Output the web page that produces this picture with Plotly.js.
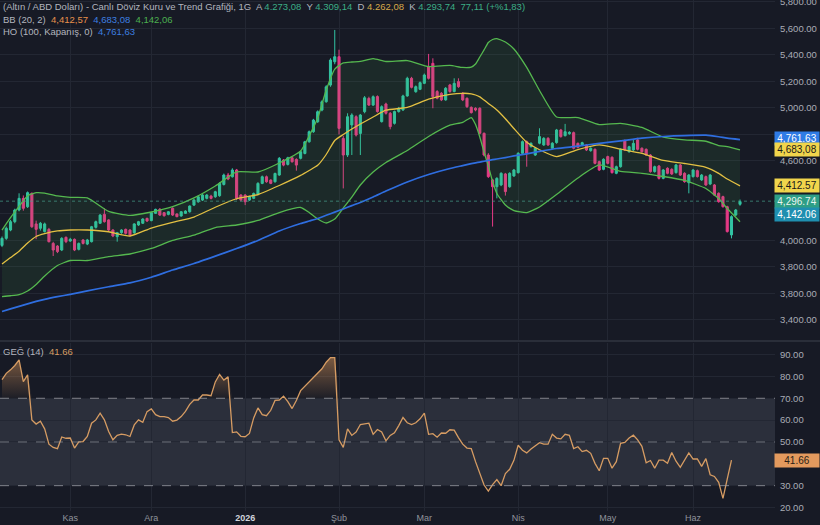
<!DOCTYPE html>
<html><head><meta charset="utf-8">
<script src="https://cdn.plot.ly/plotly-3.0.1.min.js"></script>
<style>html,body{margin:0;padding:0;background:#171a25;overflow:hidden}#chart{width:820px;height:525px}</style>
</head><body><div id="chart"></div>
<script>
// ---- candle data (daily bars) ----
const opens=[3963,4016,4079,4142,4230,4318,4255,4356,4125,4092,
4067,4084,3978,3958,3928,4024,3996,4009,3933,4004,
3973,3991,4099,4130,4197,4155,4079,4029,4059,4084,
4079,4059,4117,4130,4167,4150,4205,4235,4210,4197,
4243,4200,4185,4205,4217,
4267,4292,4305,4318,4335,4330,4338,4423,4494,4481,
4532,4343,4343,4305,4318,4348,4431,4481,4456,4443,
4494,4607,4574,4624,4612,4620,4657,4745,4821,4896,
4984,5047,5173,5349,5387,4770,4645,4872,4934,4808,
4972,5072,5022,5086,
4897,5030,4960,4884,4973,4985,5091,5224,5123,5141,
5186,5312,5337,5124,5111,5061,5174,5124,5199,5111,
5073,5005,4998,4998,4809,4645,4457,4406,4419,4502,
4406,4487,4512,4658,4746,4709,4645,4734,4721,4771,4696,4739,
4834,4791,4806,4814,4733,4721,4721,4678,4688,4595,
4537,4633,4628,4507,4557,4754,4670,4683,4759,4696,
4688,4645,4520,4562,4469,4545,4537,4512,4570,4507,
4436,4482,4527,4457,4482,4426,4419,4356,4331,4255,
4042,4192,4273.08];
const highs=[4030,4105,4155,4240,4356,4340,4370,4362,4150,4140,
4135,4095,3990,3965,4025,4030,4020,4015,3985,4010,
4012,4110,4150,4200,4243,4160,4085,4065,4085,4090,
4085,4130,4148,4168,4172,4215,4240,4245,4215,4222,
4250,4205,4222,4228,4265,
4315,4340,4350,4350,4345,4375,4440,4505,4510,4545,
4540,4350,4350,4338,4362,4440,4490,4490,4462,4512,
4630,4615,4632,4630,4620,4678,4752,4830,4918,4982,
5058,5172,5375,5589,5440,4790,4960,4960,4945,4955,
5090,5085,5095,5095,
5020,5040,4970,4980,5008,5100,5236,5235,5170,5200,
5260,5408,5375,5135,5120,5158,5182,5224,5224,5120,
5080,5012,5005,5005,4815,4659,4465,4478,4515,4510,
4515,4540,4666,4755,4755,4740,4705,4847,4780,4780,4742,4842,
4842,4880,4825,4822,4740,4745,4728,4703,4695,4602,
4620,4640,4635,4565,4695,4762,4715,4760,4775,4703,
4695,4652,4565,4570,4540,4552,4545,4578,4578,4515,
4502,4540,4535,4502,4490,4502,4426,4363,4338,4262,
4190,4238,4309.14];
const lows=[3950,4005,4070,4130,4220,4225,4245,4095,4010,4075,
4060,3985,3883,3905,3920,3980,3990,3920,3925,3970,
3965,3985,4090,4125,4135,4070,4025,3991,4050,4045,
4030,4050,4110,4125,4140,4145,4200,4185,4180,4190,
4185,4175,4180,4200,4210,
4260,4285,4298,4310,4310,4322,4330,4415,4455,4475,
4305,4295,4267,4298,4312,4340,4425,4436,4425,4437,
4488,4560,4566,4588,4527,4612,4650,4738,4812,4888,
4975,5040,5160,5330,4800,4393,4630,4645,4785,4645,
4960,5015,5015,4965,
4890,4950,4839,4875,4965,4978,5085,5148,5115,5135,
5180,5215,4998,5065,5052,5055,5115,5118,5152,5052,
5000,4958,4975,4800,4635,4472,4105,4318,4410,4339,
4398,4480,4505,4650,4557,4700,4638,4726,4714,4714,4688,4730,
4776,4785,4798,4688,4695,4712,4675,4670,4575,4525,
4530,4575,4505,4500,4550,4675,4662,4675,4680,4662,
4638,4512,4512,4460,4462,4500,4495,4505,4487,4436,
4356,4475,4475,4450,4412,4418,4335,4285,4248,4060,
4016,4185,4262.08];
const closes=[4016,4092,4142,4230,4318,4243,4361,4104,4084,4130,
4125,3991,3928,3916,4016,3991,4009,3928,3978,3978,
4004,4104,4142,4192,4142,4079,4034,4059,4079,4054,
4042,4125,4142,4162,4147,4210,4235,4192,4187,4217,
4192,4180,4217,4222,4260,
4305,4330,4343,4343,4318,4368,4431,4494,4464,4532,
4318,4305,4292,4330,4355,4431,4481,4443,4431,4506,
4620,4569,4624,4594,4569,4670,4745,4821,4909,4972,
5047,5160,5362,5387,4846,4645,4934,4947,4796,4947,
5077,5022,5085,4973,
5010,4960,4859,4973,4998,5091,5224,5156,5161,5191,
5249,5224,5086,5073,5061,5149,5124,5186,5161,5061,
5010,4965,4985,4809,4645,4482,4406,4469,4507,4369,
4507,4532,4658,4746,4658,4734,4696,4784,4771,4721,4734,4834,
4784,4821,4816,4696,4703,4738,4683,4696,4582,4532,
4613,4582,4512,4557,4688,4683,4708,4733,4688,4670,
4645,4520,4557,4469,4532,4507,4502,4570,4494,4444,
4494,4532,4482,4494,4419,4494,4343,4293,4255,4067,
4180,4230,4293.74];

// ---- indicator readings (sampled at bar indices) ----
const bandIdx=[0,2,4,6,8,10,13,16,20,25,30,35,40,45,50,55,60,65,70,72,74,76,78,80,82,84,87,90,95,100,105,108,110,111,112,113,114,115,116,118,120,123,126,130,135,140,145,150,155,160,165,168,170,173];
const bbUpper=[4079,4172,4257,4338,4361,4358,4336,4325,4321,4219,4189,4215,4255,4321,4411,4518,4517,4585,4675,4789,4924,5136,5294,5340,5347,5351,5373,5351,5358,5313,5321,5306,5309,5332,5385,5438,5494,5517,5524,5498,5445,5306,5132,4932,4928,4875,4884,4853,4781,4760,4749,4716,4709,4683.08];
const bbMid=[3823,3871,3919,3981,4030,4051,4072,4079,4079,4066,4034,4094,4137,4177,4251,4315,4347,4415,4491,4528,4567,4649,4755,4800,4841,4879,4932,4983,5004,5066,5102,5111,5107,5098,5084,5060,5034,5011,4985,4919,4845,4741,4685,4633,4686,4721,4689,4657,4604,4581,4552,4507,4464,4412.57];
const bbLower=[3577,3583,3592,3619,3668,3732,3811,3849,3849,3879,3898,3940,4000,4041,4098,4117,4151,4211,4249,4211,4162,4132,4162,4245,4328,4419,4517,4589,4679,4785,4870,4891,4928,4875,4781,4668,4562,4445,4355,4268,4226,4211,4253,4347,4472,4570,4521,4507,4483,4453,4392,4317,4241,4142.06];
const sma100=[3464,3484,3503,3522,3540,3556,3576,3594,3620,3651,3680,3723,3777,3826,3882,3939,4000,4072,4128,4147,4166,4190,4214,4238,4263,4287,4328,4373,4442,4498,4543,4565,4580,4586,4592,4598,4604,4610,4615,4626,4638,4654,4672,4694,4712,4733,4752,4772,4785,4792,4795,4783,4772,4761.63];
const rsi=[78.5,81.4,83,85,87.6,77.6,80.7,60.1,58.2,59.5,
56,49,47.5,46.9,52.3,51.7,51.8,47.2,50,50.2,
52.5,58.6,60.1,63.2,60.1,54.8,51,53,53.6,53.3,
52.5,57.8,60.1,59,63.9,65.1,62.5,61.6,61.6,61.2,
59.5,60,61.6,64,67.2,69.2,69.2,71.5,71.5,71.2,
77.5,80.9,78.3,79.8,54.3,54.6,52.6,52.4,53.9,61,
65.6,62.5,62,64.5,69,69.2,71,68.5,65.3,69,
73.5,75.5,77.6,79.8,81.5,83.5,86.5,88.6,88.6,51,
47.5,56,53,54.5,58,58.2,58.6,53.5,55.7,54.6,
50.5,53,54.2,57.5,61.2,58.8,58,58.8,60.6,63.2,
53.5,53.8,52.2,54.1,54,55.6,55.4,52,49,47.2,
47,41,35.5,30.3,27.5,30.5,32.8,30,35.5,37.5,
41.6,48.5,46.2,45,46.8,48.3,49.7,49,49,53.5,
51.8,51.4,53.5,53,47,47.8,45.6,46.2,44.8,40.2,
36.8,42.5,42.5,38,41,49.4,49.8,51.8,53.1,51,
48,40.5,41.5,38,41.7,41.7,40.3,45.2,41.2,38.4,
41.7,45,42.2,42.2,38.8,42.4,35,34.2,31.5,24.2,
33,41.66];

// ---- axis labels ----
const monthTicks=[16,35,57,79,99,121,142,162];
const monthLabels=['Kas','Ara','<span style="color:#d1d4dc;font-weight:bold">2026</span>','Şub','Mar','Nis','May','Haz'];
const priceTicks=[3400,3600,3800,4000,4200,4600,4800,5000,5200,5400,5600,5800];
const priceTickText=['3,400.00','3,800.00','3,800.00','4,000.00','4,200.00','4,600.00','4,800.00','5,000.00','5,200.00','5,400.00','5,600.00','5,800.00'];
const rsiTicks=[20,30,50,60,70,80,90];
const lastPrice=4296.74;

const barIdx=opens.map((_,i)=>i);
const rsiIdx=rsi.map((_,i)=>i);
const FONT='Liberation Sans, Arial, sans-serif';
const H=511; // plot height in px
const py=p=>1-p/H;

const traces=[
 {x:bandIdx,y:bbLower,type:'scatter',mode:'lines',line:{width:0,shape:'spline',smoothing:0.5},hoverinfo:'skip',showlegend:false},
 {x:bandIdx,y:bbUpper,type:'scatter',mode:'lines',line:{width:0,shape:'spline',smoothing:0.5},fill:'tonexty',fillcolor:'rgba(76,175,80,0.11)',hoverinfo:'skip',showlegend:false},
 {x:barIdx,open:opens,high:highs,low:lows,close:closes,type:'candlestick',xaxis:'x',yaxis:'y',whiskerwidth:0,
  increasing:{line:{color:'#32c4a4',width:1},fillcolor:'#32c4a4'},
  decreasing:{line:{color:'#e63a86',width:1},fillcolor:'#e63a86'},showlegend:false,hoverinfo:'skip'},
 {x:bandIdx,y:bbUpper,type:'scatter',mode:'lines',line:{color:'#55b84f',width:1.3,shape:'spline',smoothing:0.5},showlegend:false},
 {x:bandIdx,y:bbLower,type:'scatter',mode:'lines',line:{color:'#55b84f',width:1.3,shape:'spline',smoothing:0.5},showlegend:false},
 {x:bandIdx,y:bbMid,type:'scatter',mode:'lines',line:{color:'#e3c043',width:1.3,shape:'spline',smoothing:0.5},showlegend:false},
 {x:bandIdx,y:sma100,type:'scatter',mode:'lines',line:{color:'#2f6ee0',width:1.7,shape:'spline',smoothing:0.5},showlegend:false},
 // RSI overbought fill
 {x:rsiIdx,y:rsi.map(()=>70),xaxis:'x',yaxis:'y2',type:'scatter',mode:'lines',line:{width:0},hoverinfo:'skip',showlegend:false},
 {x:rsiIdx,y:rsi.map(v=>Math.max(v,70)),xaxis:'x',yaxis:'y2',type:'scatter',mode:'lines',line:{width:0},fill:'tonexty',
  fillcolor:'rgba(217,150,90,0.3)',
  fillgradient:{type:'vertical',start:70,stop:90,colorscale:[[0,'rgba(217,150,90,0.03)'],[1,'rgba(217,150,90,0.55)']]},
  hoverinfo:'skip',showlegend:false},
 {x:rsiIdx,y:rsi,xaxis:'x',yaxis:'y2',type:'scatter',mode:'lines',line:{color:'#d69c63',width:1.3},showlegend:false}
];

const g='<span style="color:#3cae86">', w='<span style="color:#b2b5be">', e='</span>';
const header1=w+'(Altın / ABD Doları) - Canlı Döviz Kuru ve Trend Grafiği, 1G&nbsp; A '+e+g+'4.273,08'+e+w+'&nbsp; Y '+e+g+'4.309,14'+e+w+'&nbsp; D '+e+'<span style="color:#d6a94a">4.262,08</span>'+w+'&nbsp; K '+e+g+'4.293,74&nbsp; 77,11 (+%1,83)'+e;
const header2=w+'BB (20, 2)&nbsp; '+e+'<span style="color:#e8904c">4,412,57</span>&nbsp; <span style="color:#3d7fe0">4,683,08</span>&nbsp; <span style="color:#4caf50">4,142,06</span>';
const header3=w+'HO (100, Kapanış, 0)&nbsp; '+e+'<span style="color:#3d7fe0">4,761,63</span>';
const header4=w+'GEĞ (14)&nbsp; '+e+'<span style="color:#d69c63">41.66</span>';

function hdr(text,y){return {xref:'paper',yref:'paper',x:0,y:py(y),xanchor:'left',yanchor:'middle',xshift:1,text:text,showarrow:false,font:{family:FONT,size:9.5,color:'#b2b5be'}};}
function tag(val,txt,bg,fg,yref,ys){return {xref:'paper',yref:yref,x:1,y:val,xanchor:'left',yanchor:'middle',xshift:-1,yshift:ys||0,text:txt,showarrow:false,bgcolor:bg,borderpad:1,width:42,align:'center',font:{family:FONT,size:10,color:fg}};}

const axY={side:'right',anchor:'x',showgrid:true,gridcolor:'#232733',zeroline:false,showline:false,ticks:'outside',ticklen:2,
  tickcolor:'rgba(0,0,0,0)',ticklabeloverflow:'allow',tickfont:{family:FONT,size:9.5,color:'#a9acb5'},fixedrange:true};

const layout={
 width:820,height:525,margin:{l:0,r:45,t:0,b:14},
 paper_bgcolor:'#171a25',plot_bgcolor:'#171a25',
 font:{family:FONT,color:'#b2b5be'},
 showlegend:false,hovermode:false,dragmode:false,
 xaxis:{domain:[0,1],range:[-0.47,181.2],anchor:'y2',tickvals:monthTicks,ticktext:monthLabels,
  showgrid:true,gridcolor:'#232733',gridwidth:1,zeroline:false,showline:false,ticks:'',
  tickfont:{family:FONT,size:9,color:'#8f929b'},rangeslider:{visible:false},fixedrange:true},
 yaxis:Object.assign({domain:[1-340/H,1],range:[3249,5815],tickvals:priceTicks,ticktext:priceTickText},axY),
 yaxis2:Object.assign({domain:[0,1-343/H],range:[18.4,95.3],tickvals:rsiTicks,tickformat:'.2f'},axY),
 shapes:[
  {type:'rect',xref:'paper',yref:'y2',x0:0,x1:1,y0:30,y1:70,fillcolor:'rgba(120,123,140,0.22)',line:{width:0},layer:'below'},
  {type:'line',xref:'paper',yref:'y2',x0:0,x1:1,y0:70,y1:70,line:{color:'rgba(160,162,170,0.75)',width:1,dash:'dash'}},
  {type:'line',xref:'paper',yref:'y2',x0:0,x1:1,y0:50,y1:50,line:{color:'rgba(160,162,170,0.6)',width:1,dash:'dash'}},
  {type:'line',xref:'paper',yref:'y2',x0:0,x1:1,y0:30,y1:30,line:{color:'rgba(160,162,170,0.75)',width:1,dash:'dash'}},
  {type:'line',xref:'paper',yref:'y',x0:0,x1:1,y0:lastPrice,y1:lastPrice,line:{color:'rgba(70,160,140,0.7)',width:1,dash:'dot'}},
  {type:'line',xref:'paper',yref:'paper',x0:0,x1:820/775,y0:py(341),y1:py(341),line:{color:'#2a2e39',width:2}}
 ],
 annotations:[
  hdr(header1,6.7),hdr(header2,19),hdr(header3,31.5),hdr(header4,351.7),
  tag(4761.63,'4,761.63','#2f7be5','#ffffff','y',1),
  tag(4683.08,'4,683,08','#f1d54c','#1a1a1a','y',0),
  tag(4412.57,'4,412.57','#f1d54c','#1a1a1a','y',0),
  tag(lastPrice,'4,296.74','#2e9e86','#e8f5f0','y',0),
  tag(4142.06,'4,142.06','#1f8fb0','#ffffff','y',7),
  tag(41.66,'41.66','#e39a5e','#2a1f16','y2',0)
 ]
};
Plotly.newPlot('chart',traces,layout,{staticPlot:true,displayModeBar:false});
</script></body></html>
